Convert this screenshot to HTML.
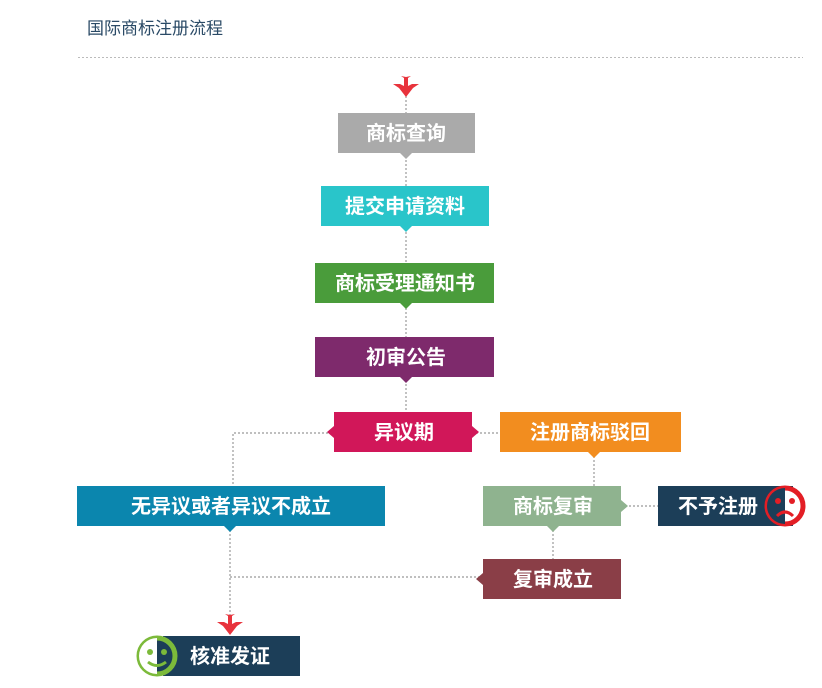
<!DOCTYPE html>
<html><head><meta charset="utf-8"><style>
html,body{margin:0;padding:0;background:#fff;width:822px;height:688px;overflow:hidden}
svg{display:block}
text{font-family:"Liberation Sans","Noto Sans CJK SC",sans-serif}
.b{fill:#fff;font-size:20px;font-weight:bold;text-anchor:middle}
.d{stroke:#999;stroke-width:1.2;stroke-dasharray:2,2;fill:none}
</style></head><body>
<svg width="822" height="688" viewBox="0 0 822 688">
<text x="87" y="34" font-size="17" fill="#2a4a66">国际商标注册流程</text>
<line x1="78" y1="57.5" x2="803" y2="57.5" stroke="#bbb" stroke-dasharray="2,2"/>
<path class="d" d="M406 96V412 M328 433H233V486 M472 433H500 M594 452V486 M553 526V559 M621 506H658 M230 526V622 M230 577H483"/>
<g fill="#e8333c">
<path d="M406 97 L399 88 L393 84 L400 84 L404 86 L404 78 L401 76 L406 77 L411 76 L408 78 L408 86 L412 84 L419 84 L413 88 Z"/>
<path d="M230 635 L223 626 L217 622 L224 622 L228 624 L228 616 L225 614 L230 615 L235 614 L232 616 L232 624 L236 622 L243 622 L237 626 Z"/>
</g>
<rect x="338" y="113" width="137" height="40" fill="#aaaaaa"/><path d="M400 153h12l-6 6z" fill="#aaaaaa"/>
<text class="b" x="406" y="140">商标查询</text>
<rect x="321" y="186" width="168" height="40" fill="#29c5ca"/><path d="M400 226h12l-6 6z" fill="#29c5ca"/>
<text class="b" x="405" y="213">提交申请资料</text>
<rect x="315" y="263" width="179" height="40" fill="#4a9c3b"/><path d="M400 303h12l-6 6z" fill="#4a9c3b"/>
<text class="b" x="405" y="290">商标受理通知书</text>
<rect x="315" y="337" width="179" height="40" fill="#7e2a6c"/><path d="M400 377h12l-6 6z" fill="#7e2a6c"/>
<text class="b" x="406" y="364">初审公告</text>
<path d="M334 412H472V426L479 432L472 438V452H334V438L327 432L334 426Z" fill="#d11759"/>
<text class="b" x="404" y="439">异议期</text>
<rect x="500" y="412" width="181" height="40" fill="#f28d1f"/><path d="M588 452h12l-6 6z" fill="#f28d1f"/>
<text class="b" x="590" y="439">注册商标驳回</text>
<rect x="77" y="486" width="308" height="40" fill="#0b86ae"/><path d="M224 526h12l-6 6z" fill="#0b86ae"/>
<text class="b" x="231" y="513">无异议或者异议不成立</text>
<path d="M483 486H621V500L628 506L621 512V526H483Z" fill="#8fb38f"/><path d="M547 526h12l-6 6z" fill="#8fb38f"/>
<text class="b" x="553" y="513">商标复审</text>
<rect x="658" y="486" width="135" height="40" fill="#1c3e58"/>
<text class="b" x="718" y="513">不予注册</text>
<path d="M483 559H621V599H483V585L476 579L483 573Z" fill="#8a3e47"/>
<text class="b" x="553" y="586">复审成立</text>
<rect x="163" y="636" width="137" height="40" fill="#1c3e58"/>
<text class="b" x="230" y="663">核准发证</text>
<circle cx="785" cy="506" r="18" fill="#fff" stroke="#e31e25" stroke-width="5"/>
<path d="M785 488A18 18 0 0 0 785 524Z" fill="#1c3e58"/>
<circle cx="778" cy="501" r="3" fill="#e31e25"/><circle cx="792" cy="501" r="3" fill="#e31e25"/>
<path d="M777 516Q785 508 793 516" stroke="#e31e25" stroke-width="3" fill="none"/>
<circle cx="157" cy="656" r="18" fill="#1c3e58" stroke="#7cba3a" stroke-width="5"/>
<path d="M157 638A18 18 0 0 0 157 674Z" fill="#fff"/>
<circle cx="150" cy="652" r="3" fill="#7cba3a"/><circle cx="164" cy="652" r="3" fill="#7cba3a"/>
<path d="M148 662Q157 669 166 662" stroke="#7cba3a" stroke-width="3" fill="none"/>
</svg>
</body></html>
